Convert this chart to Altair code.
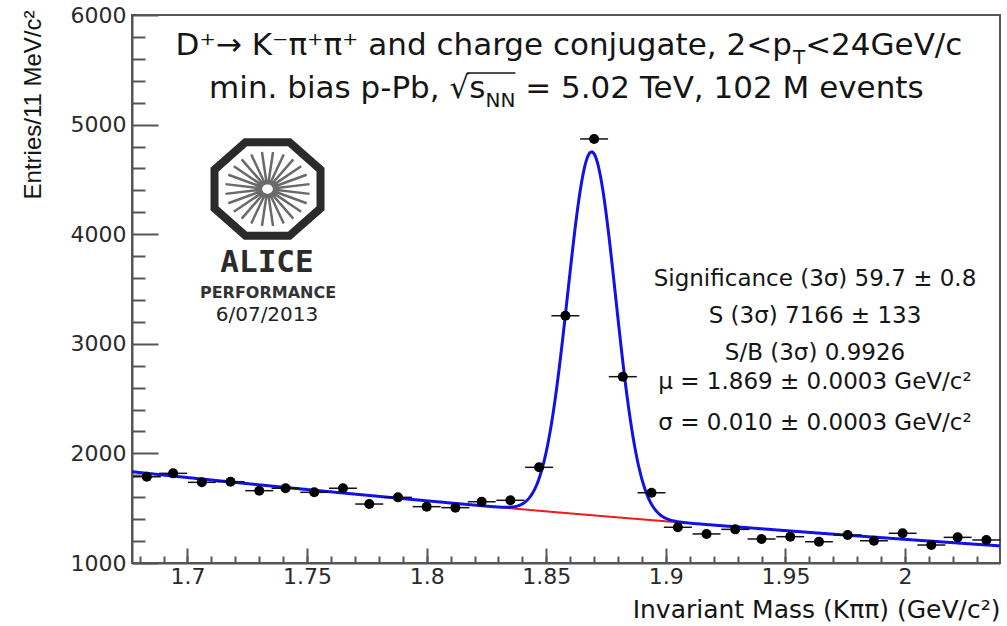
import altair as alt
import pandas as pd
import math

# ---------------- data ----------------
mass = [1.683, 1.694, 1.706, 1.718, 1.730, 1.741, 1.753, 1.765, 1.776, 1.788,
        1.800, 1.812, 1.823, 1.835, 1.847, 1.858, 1.870, 1.882, 1.894, 1.905,
        1.917, 1.929, 1.940, 1.952, 1.964, 1.976, 1.987, 1.999, 2.011, 2.022, 2.034]
entries = [1787, 1818, 1736, 1742, 1660, 1682, 1645, 1682, 1538, 1599,
           1514, 1505, 1559, 1572, 1873, 3256, 4869, 2700, 1641, 1326,
           1265, 1307, 1219, 1240, 1194, 1255, 1203, 1271, 1164, 1234, 1210]
bin_width = 0.0117

# fit parameters (gaussian signal + exponential background)
mu = 1.869
sigma = 0.010
gauss_amp = 3315
bkg_a = 1833
bkg_x0 = 1.6768
bkg_k = 1.27

x_domain = [1.6768, 2.0397]
y_domain = [1000, 6000]
x_major = [1.7, 1.75, 1.8, 1.85, 1.9, 1.95, 2.0]
x_minor = [1.68, 1.69, 1.70, 1.71, 1.72, 1.73, 1.74, 1.75, 1.76, 1.77, 1.78, 1.79,
           1.80, 1.81, 1.82, 1.83, 1.84, 1.85, 1.86, 1.87, 1.88, 1.89, 1.90, 1.91,
           1.92, 1.93, 1.94, 1.95, 1.96, 1.97, 1.98, 1.99, 2.00, 2.01, 2.02, 2.03]
y_major = [1000, 2000, 3000, 4000, 5000, 6000]
y_minor = [1200, 1400, 1600, 1800, 2200, 2400, 2600, 2800, 3200, 3400, 3600, 3800,
           4200, 4400, 4600, 4800, 5200, 5400, 5600, 5800]

stats_lines = ["Significance (3σ) 59.7 ± 0.8",
               "S (3σ) 7166 ± 133",
               "S/B (3σ) 0.9926",
               "μ = 1.869 ± 0.0003 GeV/c²",
               "σ = 0.010 ± 0.0003 GeV/c²"]

# ---------------- layout / style ----------------
W, H = 868, 548
FONT = "DejaVu Sans"
TXT = "#151515"
AXC = "#555555"

df = pd.DataFrame({"m": mass, "n": entries})
xs = alt.Scale(domain=x_domain, zero=False, nice=False)
ys = alt.Scale(domain=y_domain, zero=False, nice=False)

# approximate DejaVu Sans advance widths (em) for placing text pieces
DV = {" ": .318, "(": .390, ")": .390, "+": .838, ",": .318, "-": .361, ".": .318,
      "/": .337, "<": .838, "=": .838, "B": .686, "D": .770, "G": .776, "K": .656,
      "M": .863, "N": .748, "P": .603, "S": .635, "T": .611, "V": .684, "a": .613,
      "b": .635, "c": .550, "e": .615, "g": .635, "h": .634, "i": .278, "j": .278,
      "m": .974, "n": .634, "o": .612, "p": .635, "r": .411, "s": .521, "t": .392,
      "u": .634, "v": .592, "π": .602, "→": .838, "⁺": .54, "⁻": .54, "√": .636}
for d in "0123456789":
    DV[d] = .636


def tw(s, size):
    return sum(DV.get(ch, 0.6) for ch in s) * size


def txt(s, x, y, size, align="left", font=FONT, weight="normal", color=TXT,
        baseline="alphabetic"):
    return alt.Chart(pd.DataFrame({"t": [s]})).mark_text(
        align=align, baseline=baseline, font=font, fontSize=size,
        fontWeight=weight, color=color
    ).encode(text="t:N", x=alt.value(x), y=alt.value(y))


# ---------------- main layers ----------------
main_x_axis = alt.Axis(orient="bottom", values=x_major, format="~g", ticks=False,
                       grid=False, domainColor=AXC, domainWidth=2,
                       labelFont=FONT, labelFontSize=22, labelColor="#2a2a2a",
                       labelPadding=3, labelFlush=False,
                       title="Invariant Mass (Kππ) (GeV/c²)", titleFont=FONT,
                       titleFontSize=25, titleFontWeight="normal", titleColor=TXT,
                       titleAlign="right", titleAnchor="end", titleX=W,
                       titleY=54, titleBaseline="alphabetic")
main_y_axis = alt.Axis(orient="left", values=y_major, format="d", ticks=False,
                       grid=False, domainColor=AXC, domainWidth=2,
                       labelFont=FONT, labelFontSize=22, labelColor="#2a2a2a",
                       labelPadding=6, labelFlush=False,
                       title="Entries/11 MeV/c²", titleFont="Liberation Sans",
                       titleFontSize=24, titleFontWeight="normal", titleColor=TXT,
                       titleAngle=270, titleAlign="right", titleBaseline="alphabetic",
                       titleX=-92, titleY=-5)

points = alt.Chart(df).mark_circle(size=100, color="#000000", opacity=1).encode(
    x=alt.X("m:Q", scale=xs, axis=main_x_axis),
    y=alt.Y("n:Q", scale=ys, axis=main_y_axis),
)

errs = alt.Chart(df).transform_calculate(
    lo=f"datum.m - {bin_width}/2", hi=f"datum.m + {bin_width}/2"
).mark_rule(color="#111111", strokeWidth=1.5).encode(
    x=alt.X("lo:Q", scale=xs, axis=None),
    x2="hi:Q",
    y=alt.Y("n:Q", scale=ys, axis=None),
)

fit_expr = (f"{bkg_a}*exp(-{bkg_k}*(datum.x-{bkg_x0}))"
            f"+{gauss_amp}*exp(-pow(datum.x-{mu},2)/(2*{sigma}*{sigma}))")
bkg_expr = f"{bkg_a}*exp(-{bkg_k}*(datum.x-{bkg_x0}))"

curve = alt.Chart(alt.sequence(x_domain[0], x_domain[1] + 0.0001, 0.0004, as_="x")
                  ).transform_calculate(f=fit_expr).mark_line(
    color="#1212e6", strokeWidth=3).encode(
    x=alt.X("x:Q", scale=xs, axis=None),
    y=alt.Y("f:Q", scale=ys, axis=None),
)

bkg = alt.Chart(alt.sequence(1.832, 1.9065, 0.0005, as_="x")
                ).transform_calculate(b=bkg_expr).mark_line(
    color="#ee1c1c", strokeWidth=2).encode(
    x=alt.X("x:Q", scale=xs, axis=None),
    y=alt.Y("b:Q", scale=ys, axis=None),
)


def tick_layer(xv, yv, xlen, ylen):
    return alt.Chart(df).mark_point(opacity=0).encode(
        x=alt.X("m:Q", scale=xs, title=None,
                axis=alt.Axis(orient="bottom", values=xv, tickSize=xlen,
                              offset=-xlen, labels=False, domain=False,
                              grid=False, tickColor=AXC, tickWidth=2)),
        y=alt.Y("n:Q", scale=ys, title=None,
                axis=alt.Axis(orient="left", values=yv, tickSize=ylen,
                              offset=-ylen, labels=False, domain=False,
                              grid=False, tickColor=AXC, tickWidth=2)),
    )


major_ticks = tick_layer(x_major, y_major, 15, 26)
minor_ticks = tick_layer(x_minor, y_minor, 7, 13)

# ---------------- header text ----------------
FS, SUB = 31, 20
cx = 437
l1a = "D⁺→ K⁻π⁺π⁺ and charge conjugate, 2<p"
l1b = "T"
l1c = "<24GeV/c"
tot1 = tw(l1a, FS) + tw(l1b, SUB) + tw(l1c, FS)
x1 = cx - tot1 / 2
yb1 = 40
line1 = [txt(l1a, x1, yb1, FS),
         txt(l1b, x1 + tw(l1a, FS), yb1 + 9, SUB),
         txt(l1c, x1 + tw(l1a, FS) + tw(l1b, SUB), yb1, FS)]

l2a = "min. bias p-Pb, √s"
l2b = "NN"
l2c = "= 5.02 TeV, 102 M events"
gap = tw(" ", FS)
tot2 = tw(l2a, FS) + tw(l2b, SUB) + gap + tw(l2c, FS)
x2 = cx - tot2 / 2
yb2 = 83
ov_start = x2 + tw("min. bias p-Pb, √", FS) - 2
ov_end = x2 + tw(l2a, FS) + tw(l2b, SUB)
line2 = [txt(l2a, x2, yb2, FS),
         txt(l2b, x2 + tw(l2a, FS), yb2 + 9, SUB),
         txt(l2c, x2 + tw(l2a, FS) + tw(l2b, SUB) + gap, yb2, FS),
         alt.Chart(pd.DataFrame({"k": [0]})).mark_rule(color=TXT, strokeWidth=1.5).encode(
             x=alt.value(ov_start), x2=alt.value(ov_end), y=alt.value(yb2 - 25))]

# ---------------- statistics box ----------------
stat_y = [271, 308, 345, 374, 415]
stats = [txt(s, 683, yy, 23, align="center") for s, yy in zip(stats_lines, stat_y)]

# ---------------- ALICE logo ----------------
sq = 0.88
octo = [(-0.4142, -1), (0.4142, -1), (1, -0.4142), (1, 0.4142),
        (0.4142, 1), (-0.4142, 1), (-1, 0.4142), (-1, -0.4142)]
oct_path = "M " + " L ".join(f"{px:.4f} {py * sq:.4f}" for px, py in octo) + " Z"
rays = []
for k in range(24):
    a = math.radians(k * 15 + 7.5)
    rays.append(f"M {0.1 * math.cos(a):.4f} {0.1 * math.sin(a) * sq:.4f} "
                f"L {0.8 * math.cos(a):.4f} {0.8 * math.sin(a) * sq:.4f}")
ray_path = " ".join(rays)
logo_cx, logo_cy = 135.5, 174
one = pd.DataFrame({"k": [0]})
octagon = alt.Chart(one).mark_point(shape=oct_path, size=106 * 106, filled=False,
                                    stroke="#2b2b2b", strokeWidth=8, opacity=1).encode(
    x=alt.value(logo_cx), y=alt.value(logo_cy))
burst = alt.Chart(one).mark_point(shape=ray_path, size=106 * 106, filled=False,
                                  stroke="#6a6a6a", strokeWidth=2.5, opacity=1).encode(
    x=alt.value(logo_cx), y=alt.value(logo_cy))
logo_text = [txt("ALICE", 135, 257, 31, align="center", font="DejaVu Sans Mono",
                 weight="bold", color="#2b2b2b"),
             txt("PERFORMANCE", 136, 283, 16, align="center", weight="bold",
                 color="#333333"),
             txt("6/07/2013", 135, 306, 20, align="center", color="#222222")]

chart = alt.layer(
    major_ticks, minor_ticks, bkg, curve, errs, points,
    *line1, *line2, *stats, octagon, burst, *logo_text
).resolve_axis(x="independent", y="independent").properties(
    width=W, height=H,
    autosize=alt.AutoSizeParams(type="none"),
    padding={"left": 132, "top": 15, "right": 7, "bottom": 63},
    background="white",
).configure_view(stroke=AXC, strokeWidth=2)

chart.save("out.html", embed_options={"renderer": "svg", "actions": False})
